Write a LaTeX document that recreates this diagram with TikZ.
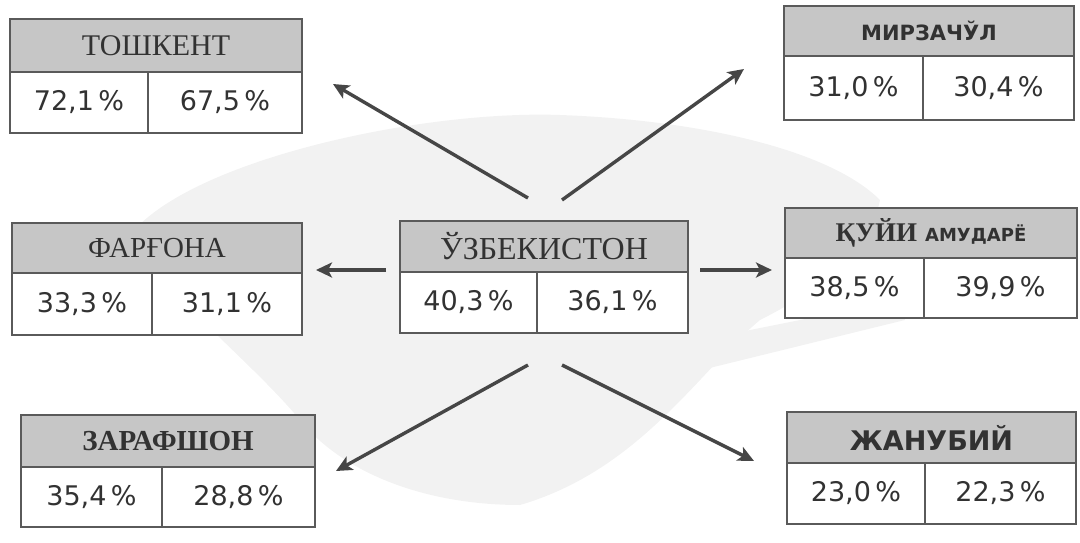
\documentclass[tikz,border=0pt]{standalone}
\usepackage{fontspec}
\setmainfont{Liberation Serif}
\newfontfamily\numfont{DejaVu Sans}
\newfontfamily\dvsans{DejaVu Sans}
\usetikzlibrary{arrows.meta}
\definecolor{hdrgray}{RGB}{198,198,198}
\definecolor{framegray}{RGB}{90,90,90}
\definecolor{txtgray}{RGB}{50,50,50}
\definecolor{arrgray}{RGB}{70,70,70}
\definecolor{blobgray}{RGB}{242,242,242}
\begin{document}
\begin{tikzpicture}[x=1pt,y=-1pt,
  hdr/.style={draw=framegray,line width=1.5pt,fill=hdrgray,inner sep=0pt,outer sep=0pt,text=txtgray},
  cell/.style={draw=framegray,line width=1.5pt,fill=white,inner sep=0pt,outer sep=0pt,text=txtgray,font=\numfont\fontsize{27}{30}\selectfont},
  conn/.style={draw=arrgray,line width=3.4pt,-{Stealth[length=16pt,width=15pt,inset=4pt]}},
  serifttl/.style={font=\fontsize{#1}{#1}\selectfont},
]
\useasboundingbox (0,0) rectangle (1080,543);
% faint background watermark
\fill[blobgray] (130,235) .. controls (190,160) and (420,110) .. (560,115) .. controls (700,120) and (830,150) .. (880,200)
  .. controls (870,250) and (820,290) .. (760,320) .. controls (700,370) and (640,470) .. (520,505)
  .. controls (420,505) and (340,470) .. (300,420) .. controls (250,360) and (170,300) .. (130,235) -- cycle;
\fill[blobgray] (600,360) -- (900,300) -- (905,320) -- (620,390) -- cycle;

% Тошкент
\node[hdr,minimum width=292pt,minimum height=53pt,serifttl=30] (tosh) at (156,45.5) {ТОШКЕНТ};
\node[cell,minimum width=138pt,minimum height=61pt] (tosh-a) at (79,102.5) {72,1\,\%};
\node[cell,minimum width=154pt,minimum height=61pt] (tosh-b) at (225,102.5) {67,5\,\%};
% Мирзачўл
\node[hdr,minimum width=290pt,minimum height=50pt,font=\dvsans\bfseries\fontsize{21}{21}\selectfont] (mirz) at (929,31) {МИРЗАЧЎЛ};
\node[cell,minimum width=139pt,minimum height=64pt] (mirz-a) at (853.5,88) {31,0\,\%};
\node[cell,minimum width=151pt,minimum height=64pt] (mirz-b) at (998.5,88) {30,4\,\%};
% Фарғона
\node[hdr,minimum width=290pt,minimum height=50pt,serifttl=29] (ferg) at (157,248) {ФАРҒОНА};
\node[cell,minimum width=140pt,minimum height=62pt] (ferg-a) at (82,304) {33,3\,\%};
\node[cell,minimum width=150pt,minimum height=62pt] (ferg-b) at (227,304) {31,1\,\%};
% Ўзбекистон
\node[hdr,minimum width=288pt,minimum height=51pt,serifttl=32] (uzb) at (544,246.5) {ЎЗБЕКИСТОН};
\node[cell,minimum width=137pt,minimum height=61pt] (uzb-a) at (468.5,302.5) {40,3\,\%};
\node[cell,minimum width=151pt,minimum height=61pt] (uzb-b) at (612.5,302.5) {36,1\,\%};
% Қуйи Амударё
\node[hdr,minimum width=292pt,minimum height=50pt] (amu) at (931,233) {{\bfseries\fontsize{27}{27}\selectfont ҚУЙИ}\hspace{8pt}{\dvsans\bfseries\fontsize{18}{18}\selectfont АМУДАРЁ}};
\node[cell,minimum width=139pt,minimum height=60pt] (amu-a) at (854.5,288) {38,5\,\%};
\node[cell,minimum width=153pt,minimum height=60pt] (amu-b) at (1000.5,288) {39,9\,\%};
% Зарафшон
\node[hdr,minimum width=294pt,minimum height=52pt,font=\bfseries\fontsize{29}{29}\selectfont] (zar) at (168,441) {ЗАРАФШОН};
\node[cell,minimum width=141pt,minimum height=60pt] (zar-a) at (91.5,497) {35,4\,\%};
\node[cell,minimum width=153pt,minimum height=60pt] (zar-b) at (238.5,497) {28,8\,\%};
% Жанубий
\node[hdr,minimum width=289pt,minimum height=51pt,font=\dvsans\bfseries\fontsize{27}{27}\selectfont] (jan) at (931.5,437.5) {ЖАНУБИЙ};
\node[cell,minimum width=138pt,minimum height=61pt] (jan-a) at (856,493.5) {23,0\,\%};
\node[cell,minimum width=151pt,minimum height=61pt] (jan-b) at (1000.5,493.5) {22,3\,\%};

% arrow end points
\coordinate (s1) at (528,198); \coordinate (e1) at (333,84);
\coordinate (s2) at (562,200); \coordinate (e2) at (744,69);
\coordinate (s3) at (386,270); \coordinate (e3) at (316,270);
\coordinate (s4) at (700,270); \coordinate (e4) at (772,270);
\coordinate (s5) at (528,365); \coordinate (e5) at (336,471);
\coordinate (s6) at (562,365); \coordinate (e6) at (754,461);
\draw[conn] (s1) -- (e1);
\draw[conn] (s2) -- (e2);
\draw[conn] (s3) -- (e3);
\draw[conn] (s4) -- (e4);
\draw[conn] (s5) -- (e5);
\draw[conn] (s6) -- (e6);
\end{tikzpicture}
\end{document}
